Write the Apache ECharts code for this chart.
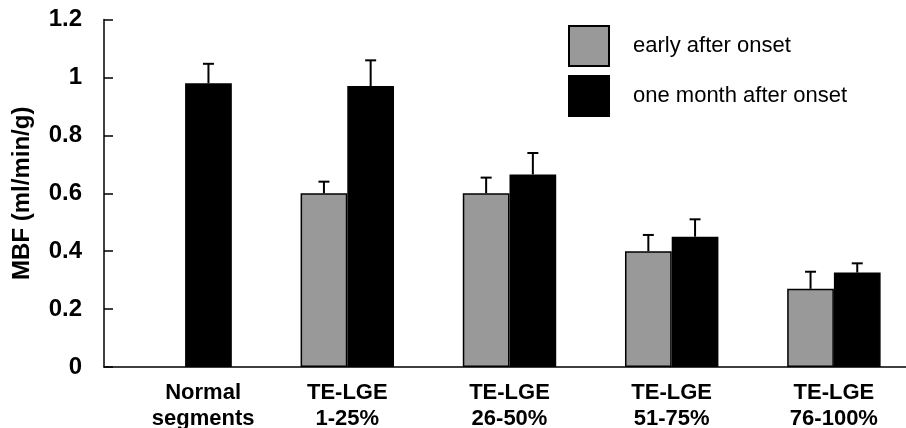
<!DOCTYPE html>
<html>
<head>
<meta charset="utf-8">
<script src="https://cdn.jsdelivr.net/npm/echarts@6/dist/echarts.min.js"></script>
<style>
  html, body { margin: 0; padding: 0; background: #fff; }
  #chart { width: 906px; height: 428px; }
</style>
</head>
<body>
<div id="chart"></div>
<script>
const categories = ['Normal\nsegments', 'TE-LGE\n1-25%', 'TE-LGE\n26-50%', 'TE-LGE\n51-75%', 'TE-LGE\n76-100%'];
const seriesNames = ['early after onset', 'one month after onset'];
const earlyMean = [null, 0.60, 0.60, 0.40, 0.27];
const earlyErr = [null, 0.04, 0.054, 0.056, 0.059];
const monthMean = [0.98, 0.97, 0.665, 0.45, 0.326];
const monthErr = [0.067, 0.089, 0.074, 0.06, 0.032];
const yTicks = { min: 0, max: 1.2, interval: 0.2 };

const FONT = '"Liberation Sans", Arial, Helvetica, sans-serif';
const BAR_FRAC = 0.288;

function errData(means, errs) {
  const out = [];
  means.forEach((m, i) => { if (m != null) out.push([i, m, m + errs[i]]); });
  return out;
}
function errSeries(means, errs, sign) {
  return {
    type: 'custom',
    z: 5,
    silent: true,
    data: errData(means, errs),
    encode: { x: 0, y: [1, 2] },
    renderItem: function (params, api) {
      const i = api.value(0);
      const lo = api.coord([i, api.value(1)]);
      const hi = api.coord([i, api.value(2)]);
      const band = api.size([1, 0])[0];
      const x = lo[0] + sign * band * BAR_FRAC / 2;
      const half = 5.5;
      return {
        type: 'group',
        children: [
          { type: 'line', shape: { x1: x, y1: lo[1], x2: x, y2: hi[1] }, style: { stroke: '#000', lineWidth: 2 } },
          { type: 'line', shape: { x1: x - half, y1: hi[1], x2: x + half, y2: hi[1] }, style: { stroke: '#000', lineWidth: 2 } }
        ]
      };
    }
  };
}

const chart = echarts.init(document.getElementById('chart'), null, { renderer: 'canvas' });
chart.setOption({
  animation: false,
  backgroundColor: '#fff',
  grid: { left: 104, width: 811, top: 19.5, height: 347.5, containLabel: false, outerBoundsMode: 'none' },
  legend: {
    data: seriesNames,
    orient: 'vertical',
    left: 568,
    top: 25,
    padding: 0,
    itemWidth: 40,
    itemHeight: 40,
    itemGap: 8,
    icon: 'rect',
    textStyle: { fontFamily: FONT, fontSize: 22, color: '#000', padding: [0, 0, 3, 19] }
  },
  xAxis: {
    type: 'category',
    data: categories.map((c, i) => i === 0 ? { value: c, textStyle: { padding: [0, 0, 0, 36] } } : c),
    axisLine: { lineStyle: { color: '#000', width: 1.5 } },
    axisTick: { inside: true, length: 5, lineStyle: { color: '#000', width: 1.5 }, interval: function (i) { return i > 1; } },
    axisLabel: { fontFamily: FONT, fontSize: 22, fontWeight: 'bold', color: '#000', margin: 13, lineHeight: 26 }
  },
  yAxis: {
    type: 'value',
    min: yTicks.min, max: yTicks.max, interval: yTicks.interval,
    name: 'MBF (ml/min/g)',
    nameLocation: 'middle',
    nameGap: 70,
    nameTextStyle: { fontFamily: FONT, fontSize: 24, fontWeight: 'bold', color: '#000' },
    splitLine: { show: false },
    axisLine: { show: true, lineStyle: { color: '#000', width: 1.5 } },
    axisTick: { show: true, inside: true, length: 9, lineStyle: { color: '#000', width: 1.5 } },
    axisLabel: { fontFamily: FONT, fontSize: 24, fontWeight: 'bold', color: '#000', margin: 22, padding: [4, 0, 0, 0] }
  },
  series: [
    {
      name: seriesNames[0], type: 'bar', data: earlyMean,
      barWidth: (BAR_FRAC * 100) + '%', barGap: '0%',
      itemStyle: { color: '#999999', borderColor: '#000', borderWidth: 1.5 }
    },
    {
      name: seriesNames[1], type: 'bar', data: monthMean,
      barWidth: (BAR_FRAC * 100) + '%', barGap: '0%',
      itemStyle: { color: '#000000', borderColor: '#000', borderWidth: 1.5 }
    },
    errSeries(earlyMean, earlyErr, -1),
    errSeries(monthMean, monthErr, 1)
  ]
});
</script>
</body>
</html>
